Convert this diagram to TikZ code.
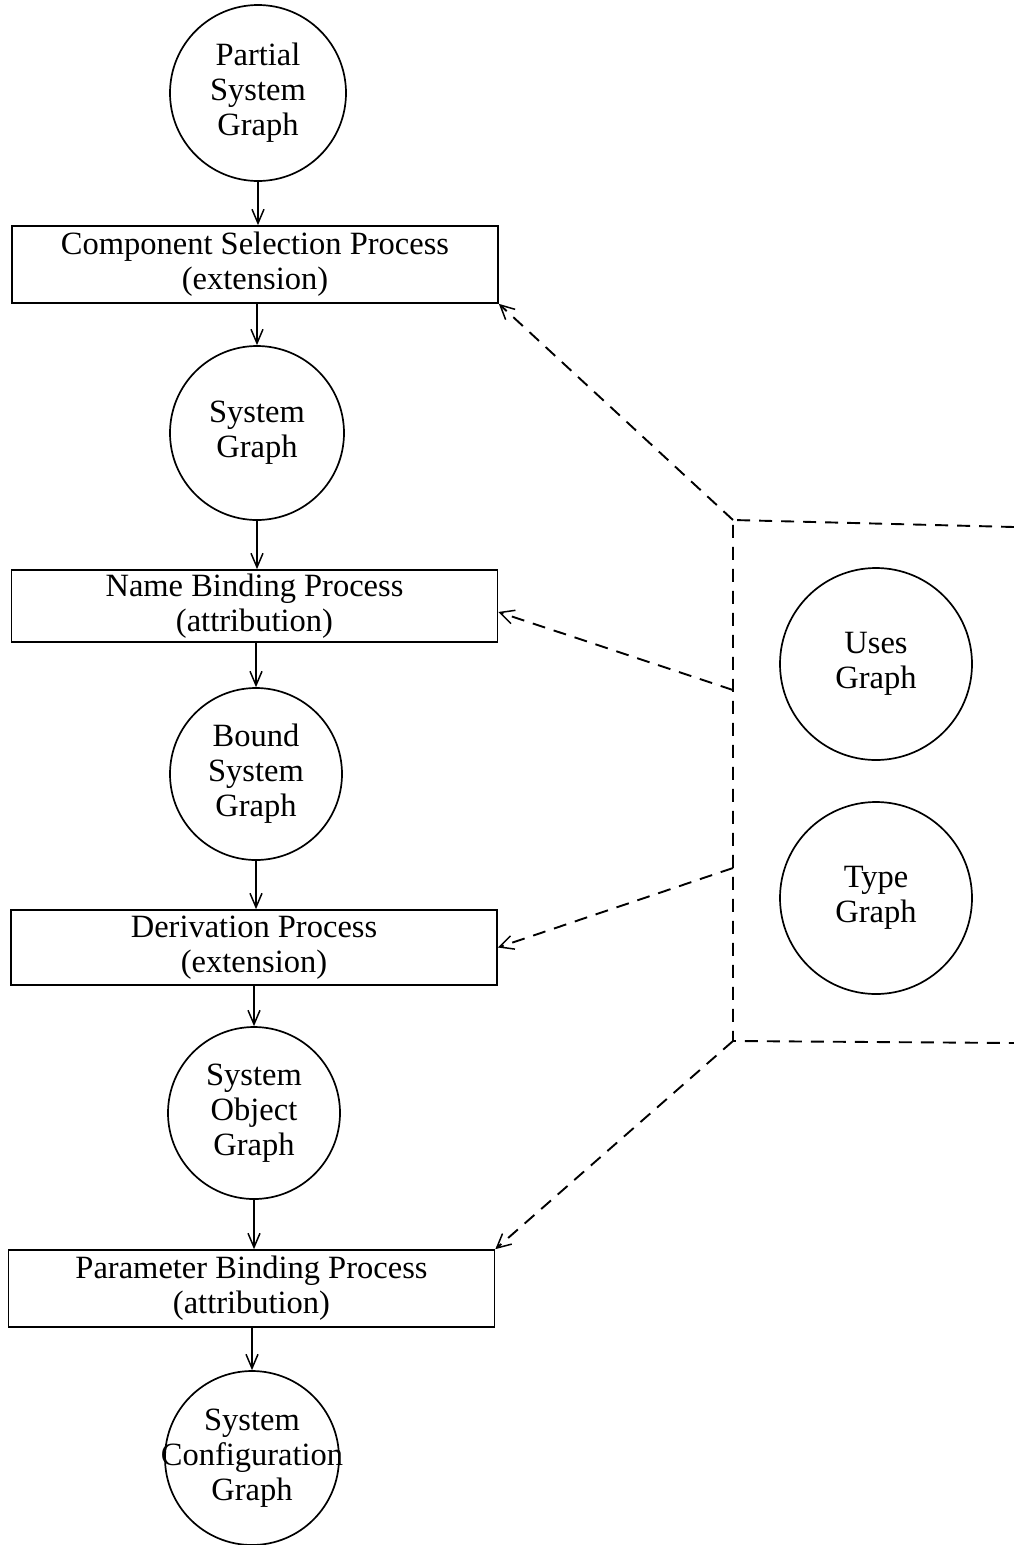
\documentclass[tikz,border=0pt]{standalone}
\usepackage{fontspec}
\setmainfont{Liberation Serif}
\usetikzlibrary{arrows.meta}
\begin{document}
\begin{tikzpicture}[x=1pt,y=1pt,
  every node/.style={font=\fontsize{32.5}{35}\selectfont, align=center, inner sep=0pt},
  graphnode/.style={circle, draw, line width=1.7pt, minimum size=#1},
  procbox/.style={rectangle, draw, line width=1.7pt, minimum width=486pt, minimum height=#1},
  flow/.style={line width=1.5pt, -{Straight Barb[length=14pt,width=12pt,line width=1.5pt]}},
  dashline/.style={line width=1.9pt, dash pattern=on 13pt off 9pt},
  dasharrow/.style={dashline, -{Straight Barb[length=14pt,width=14pt,line width=1.5pt,sep=0pt]}}]
\useasboundingbox (0,0) rectangle (1014,-1545);

\node[graphnode=176pt] (psg) at (258,-93) {Partial\\System\\Graph};
\node[procbox=77pt] (csp) at (255,-264.5) {Component Selection Process\\(extension)};
\node[graphnode=174pt] (sg) at (257,-433) {System\\Graph};
\node[procbox=72pt] (nbp) at (254.5,-606) {Name Binding Process\\(attribution)};
\node[graphnode=172pt] (bsg) at (256,-774) {Bound\\System\\Graph};
\node[procbox=75pt] (dp) at (254,-947.5) {Derivation Process\\(extension)};
\node[graphnode=172pt] (sog) at (254,-1113) {System\\Object\\Graph};
\node[procbox=77pt] (pbp) at (251.5,-1288.5) {Parameter Binding Process\\(attribution)};
\node[graphnode=174pt, label={[align=center]center:System\\Configuration\\Graph}] (scg) at (252,-1458) {};

\node[graphnode=192pt] (ug) at (876,-664) {Uses\\Graph};
\node[graphnode=192pt] (tg) at (876,-898) {Type\\Graph};

\draw[flow] (psg) -- (psg.south |- csp.north);
\draw[flow] (csp.south -| sg) -- (sg);
\draw[flow] (sg) -- (sg.south |- nbp.north);
\draw[flow] (nbp.south -| bsg) -- (bsg);
\draw[flow] (bsg) -- (bsg.south |- dp.north);
\draw[flow] (dp.south -| sog) -- (sog);
\draw[flow] (sog) -- (sog.south |- pbp.north);
\draw[flow] (pbp.south -| scg) -- (scg);

\coordinate (ctop) at (733,-520);
\coordinate (cbot) at (733,-1041);
\coordinate (trt) at (1014,-527);
\coordinate (brt) at (1014,-1043);
\coordinate (p2) at (733,-690);
\coordinate (p3) at (733,-868);

\draw[dashline] (trt) -- (ctop) -- (cbot) -- (brt);
\draw[dasharrow] (ctop) -- (csp.south east);
\draw[dasharrow] (p2) -- ([yshift=-6pt]nbp.east);
\draw[dasharrow] (p3) -- (dp.east);
\draw[dasharrow] (cbot) -- (pbp.north east);
\end{tikzpicture}
\end{document}
